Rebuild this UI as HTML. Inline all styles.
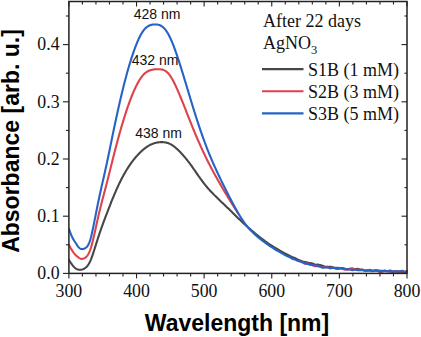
<!DOCTYPE html>
<html><head><meta charset="utf-8"><style>
html,body{margin:0;padding:0;background:#fff;width:421px;height:337px;overflow:hidden}
svg{display:block}
.serif{font-family:"Liberation Serif",serif}
.sans{font-family:"Liberation Sans",sans-serif}
</style></head><body>
<svg width="421" height="337" viewBox="0 0 421 337">
<rect width="421" height="337" fill="#fff"/>
<clipPath id="pa"><rect x="68.5" y="0" width="340" height="274"/></clipPath>
<g clip-path="url(#pa)" fill="none" stroke-width="2.1" stroke-linejoin="round" stroke-linecap="round">
<path d="M68.90,259.92 L69.40,260.70 L69.90,261.47 L70.40,262.23 L70.90,262.98 L71.40,263.71 L71.90,264.41 L72.40,265.09 L72.90,265.72 L73.40,266.32 L73.90,266.87 L74.40,267.38 L74.90,267.83 L75.40,268.23 L75.90,268.58 L76.40,268.88 L76.90,269.14 L77.40,269.35 L77.90,269.52 L78.40,269.65 L78.90,269.75 L79.40,269.80 L79.90,269.82 L80.40,269.81 L80.90,269.76 L81.40,269.68 L81.90,269.56 L82.40,269.41 L82.90,269.22 L83.40,269.01 L83.90,268.75 L84.40,268.47 L84.90,268.15 L85.40,267.79 L85.90,267.40 L86.40,266.95 L86.90,266.45 L87.40,265.89 L87.90,265.26 L88.40,264.55 L88.90,263.76 L89.40,262.87 L89.90,261.90 L90.40,260.81 L90.90,259.62 L91.40,258.33 L91.90,256.96 L92.40,255.53 L92.90,254.06 L93.40,252.55 L93.90,251.02 L94.40,249.46 L94.90,247.89 L95.40,246.31 L95.90,244.73 L96.40,243.14 L96.90,241.56 L97.40,239.99 L97.90,238.44 L98.40,236.89 L98.90,235.37 L99.40,233.86 L99.90,232.38 L100.40,230.92 L100.90,229.47 L101.40,228.05 L101.90,226.66 L102.40,225.27 L102.90,223.91 L103.40,222.56 L103.90,221.22 L104.40,219.88 L104.90,218.56 L105.40,217.24 L105.90,215.92 L106.40,214.61 L106.90,213.31 L107.40,212.01 L107.90,210.71 L108.40,209.42 L108.90,208.13 L109.40,206.84 L109.90,205.56 L110.40,204.27 L110.90,203.00 L111.40,201.73 L111.90,200.48 L112.40,199.23 L112.90,198.00 L113.40,196.78 L113.90,195.58 L114.40,194.39 L114.90,193.22 L115.40,192.06 L115.90,190.91 L116.40,189.78 L116.90,188.66 L117.40,187.56 L117.90,186.47 L118.40,185.40 L118.90,184.34 L119.40,183.30 L119.90,182.27 L120.40,181.26 L120.90,180.26 L121.40,179.27 L121.90,178.31 L122.40,177.35 L122.90,176.41 L123.40,175.49 L123.90,174.58 L124.40,173.69 L124.90,172.81 L125.40,171.95 L125.90,171.10 L126.40,170.27 L126.90,169.45 L127.40,168.65 L127.90,167.86 L128.40,167.08 L128.90,166.32 L129.40,165.58 L129.90,164.84 L130.40,164.12 L130.90,163.42 L131.40,162.73 L131.90,162.05 L132.40,161.38 L132.90,160.73 L133.40,160.08 L133.90,159.45 L134.40,158.83 L134.90,158.23 L135.40,157.63 L135.90,157.04 L136.40,156.46 L136.90,155.90 L137.40,155.34 L137.90,154.80 L138.40,154.26 L138.90,153.74 L139.40,153.22 L139.90,152.72 L140.40,152.23 L140.90,151.75 L141.40,151.28 L141.90,150.82 L142.40,150.37 L142.90,149.93 L143.40,149.51 L143.90,149.09 L144.40,148.69 L144.90,148.30 L145.40,147.92 L145.90,147.55 L146.40,147.20 L146.90,146.86 L147.40,146.53 L147.90,146.21 L148.40,145.90 L148.90,145.61 L149.40,145.33 L149.90,145.06 L150.40,144.81 L150.90,144.57 L151.40,144.34 L151.90,144.12 L152.40,143.91 L152.90,143.72 L153.40,143.54 L153.90,143.37 L154.40,143.21 L154.90,143.06 L155.40,142.93 L155.90,142.80 L156.40,142.69 L156.90,142.58 L157.40,142.49 L157.90,142.41 L158.40,142.34 L158.90,142.28 L159.40,142.22 L159.90,142.18 L160.40,142.15 L160.90,142.13 L161.40,142.12 L161.90,142.12 L162.40,142.13 L162.90,142.16 L163.40,142.19 L163.90,142.23 L164.40,142.28 L164.90,142.35 L165.40,142.43 L165.90,142.52 L166.40,142.63 L166.90,142.75 L167.40,142.89 L167.90,143.05 L168.40,143.22 L168.90,143.42 L169.40,143.63 L169.90,143.87 L170.40,144.12 L170.90,144.39 L171.40,144.68 L171.90,144.99 L172.40,145.31 L172.90,145.65 L173.40,146.00 L173.90,146.37 L174.40,146.76 L174.90,147.15 L175.40,147.57 L175.90,147.99 L176.40,148.43 L176.90,148.88 L177.40,149.34 L177.90,149.81 L178.40,150.29 L178.90,150.78 L179.40,151.28 L179.90,151.79 L180.40,152.31 L180.90,152.84 L181.40,153.38 L181.90,153.93 L182.40,154.48 L182.90,155.04 L183.40,155.61 L183.90,156.18 L184.40,156.76 L184.90,157.35 L185.40,157.94 L185.90,158.55 L186.40,159.16 L186.90,159.77 L187.40,160.40 L187.90,161.03 L188.40,161.68 L188.90,162.33 L189.40,162.99 L189.90,163.66 L190.40,164.34 L190.90,165.02 L191.40,165.71 L191.90,166.41 L192.40,167.12 L192.90,167.83 L193.40,168.55 L193.90,169.27 L194.40,170.00 L194.90,170.72 L195.40,171.45 L195.90,172.18 L196.40,172.90 L196.90,173.63 L197.40,174.35 L197.90,175.08 L198.40,175.79 L198.90,176.50 L199.40,177.21 L199.90,177.91 L200.40,178.61 L200.90,179.30 L201.40,179.99 L201.90,180.66 L202.40,181.33 L202.90,182.00 L203.40,182.65 L203.90,183.30 L204.40,183.94 L204.90,184.58 L205.40,185.20 L205.90,185.82 L206.40,186.43 L206.90,187.02 L207.40,187.61 L207.90,188.19 L208.40,188.77 L208.90,189.33 L209.40,189.89 L209.90,190.44 L210.40,190.98 L210.90,191.52 L211.40,192.05 L211.90,192.58 L212.40,193.10 L212.90,193.61 L213.40,194.12 L213.90,194.63 L214.40,195.13 L214.90,195.63 L215.40,196.12 L215.90,196.61 L216.40,197.10 L216.90,197.59 L217.40,198.08 L217.90,198.56 L218.40,199.04 L218.90,199.52 L219.40,200.00 L219.90,200.48 L220.40,200.96 L220.90,201.44 L221.40,201.91 L221.90,202.39 L222.40,202.87 L222.90,203.34 L223.40,203.82 L223.90,204.29 L224.40,204.77 L224.90,205.25 L225.40,205.72 L225.90,206.20 L226.40,206.68 L226.90,207.16 L227.40,207.64 L227.90,208.12 L228.40,208.60 L228.90,209.09 L229.40,209.57 L229.90,210.06 L230.40,210.55 L230.90,211.03 L231.40,211.52 L231.90,212.01 L232.40,212.50 L232.90,213.00 L233.40,213.49 L233.90,213.98 L234.40,214.47 L234.90,214.96 L235.40,215.46 L235.90,215.95 L236.40,216.44 L236.90,216.93 L237.40,217.42 L237.90,217.91 L238.40,218.40 L238.90,218.88 L239.40,219.37 L239.90,219.85 L240.40,220.33 L240.90,220.81 L241.40,221.29 L241.90,221.76 L242.40,222.23 L242.90,222.70 L243.40,223.16 L243.90,223.62 L244.40,224.08 L244.90,224.54 L245.40,224.99 L245.90,225.45 L246.40,225.89 L246.90,226.34 L247.40,226.79 L247.90,227.23 L248.40,227.67 L248.90,228.11 L249.40,228.55 L249.90,228.98 L250.40,229.41 L250.90,229.85 L251.40,230.28 L251.90,230.71 L252.40,231.13 L252.90,231.56 L253.40,231.98 L253.90,232.40 L254.40,232.82 L254.90,233.24 L255.40,233.65 L255.90,234.07 L256.40,234.48 L256.90,234.88 L257.40,235.29 L257.90,235.69 L258.40,236.09 L258.90,236.49 L259.40,236.88 L259.90,237.27 L260.40,237.66 L260.90,238.05 L261.40,238.43 L261.90,238.81 L262.40,239.19 L262.90,239.56 L263.40,239.94 L263.90,240.31 L264.40,240.67 L264.90,241.03 L265.40,241.40 L265.90,241.75 L266.40,242.11 L266.90,242.46 L267.40,242.81 L267.90,243.16 L268.40,243.50 L268.90,243.84 L269.40,244.18 L269.90,244.51 L270.00,244.58 L272.50,246.22 L275.00,247.78 L277.50,249.18 L280.00,250.71 L282.50,252.09 L285.00,253.47 L287.50,254.71 L290.00,256.02 L292.50,257.13 L295.00,258.08 L297.50,259.49 L300.00,260.45 L302.50,261.51 L305.00,261.93 L307.50,262.54 L310.00,263.16 L312.50,263.46 L315.00,264.79 L317.50,264.62 L320.00,265.05 L322.50,265.83 L325.00,266.84 L327.50,266.78 L330.00,266.70 L332.50,267.13 L335.00,267.90 L337.50,267.90 L340.00,267.94 L342.50,268.36 L345.00,268.93 L347.50,269.57 L350.00,268.65 L352.50,269.05 L355.00,269.18 L357.50,268.79 L360.00,269.49 L362.50,269.63 L365.00,270.55 L367.50,270.28 L370.00,269.91 L372.50,270.85 L375.00,270.64 L377.50,270.27 L380.00,270.78 L382.50,270.87 L385.00,270.84 L387.50,271.21 L390.00,270.45 L392.50,271.17 L395.00,271.64 L397.50,271.60 L400.00,271.69 L402.50,271.70 L405.00,271.83 L407.00,271.30" stroke="#474747"/>
<path d="M68.90,244.82 L69.40,245.74 L69.90,246.64 L70.40,247.54 L70.90,248.42 L71.40,249.28 L71.90,250.12 L72.40,250.92 L72.90,251.68 L73.40,252.40 L73.90,253.08 L74.40,253.70 L74.90,254.27 L75.40,254.79 L75.90,255.28 L76.40,255.73 L76.90,256.16 L77.40,256.57 L77.90,256.97 L78.40,257.37 L78.90,257.76 L79.40,258.11 L79.90,258.42 L80.40,258.66 L80.90,258.82 L81.40,258.90 L81.90,258.91 L82.40,258.86 L82.90,258.75 L83.40,258.61 L83.90,258.43 L84.40,258.20 L84.90,257.92 L85.40,257.58 L85.90,257.18 L86.40,256.71 L86.90,256.16 L87.40,255.53 L87.90,254.80 L88.40,253.96 L88.90,253.01 L89.40,251.92 L89.90,250.71 L90.40,249.34 L90.90,247.81 L91.40,246.14 L91.90,244.35 L92.40,242.43 L92.90,240.43 L93.40,238.34 L93.90,236.20 L94.40,234.00 L94.90,231.77 L95.40,229.52 L95.90,227.24 L96.40,224.95 L96.90,222.68 L97.40,220.42 L97.90,218.20 L98.40,216.01 L98.90,213.86 L99.40,211.75 L99.90,209.67 L100.40,207.64 L100.90,205.64 L101.40,203.67 L101.90,201.73 L102.40,199.81 L102.90,197.92 L103.40,196.03 L103.90,194.15 L104.40,192.27 L104.90,190.38 L105.40,188.49 L105.90,186.58 L106.40,184.66 L106.90,182.73 L107.40,180.78 L107.90,178.81 L108.40,176.83 L108.90,174.83 L109.40,172.83 L109.90,170.81 L110.40,168.80 L110.90,166.77 L111.40,164.75 L111.90,162.74 L112.40,160.73 L112.90,158.73 L113.40,156.75 L113.90,154.78 L114.40,152.82 L114.90,150.88 L115.40,148.95 L115.90,147.04 L116.40,145.14 L116.90,143.26 L117.40,141.39 L117.90,139.54 L118.40,137.71 L118.90,135.89 L119.40,134.09 L119.90,132.31 L120.40,130.55 L120.90,128.80 L121.40,127.07 L121.90,125.36 L122.40,123.68 L122.90,122.01 L123.40,120.36 L123.90,118.73 L124.40,117.12 L124.90,115.54 L125.40,113.97 L125.90,112.43 L126.40,110.91 L126.90,109.41 L127.40,107.94 L127.90,106.49 L128.40,105.06 L128.90,103.66 L129.40,102.28 L129.90,100.92 L130.40,99.59 L130.90,98.28 L131.40,97.00 L131.90,95.74 L132.40,94.51 L132.90,93.31 L133.40,92.13 L133.90,90.98 L134.40,89.86 L134.90,88.76 L135.40,87.70 L135.90,86.66 L136.40,85.65 L136.90,84.67 L137.40,83.72 L137.90,82.80 L138.40,81.91 L138.90,81.05 L139.40,80.23 L139.90,79.43 L140.40,78.67 L140.90,77.94 L141.40,77.24 L141.90,76.58 L142.40,75.95 L142.90,75.35 L143.40,74.79 L143.90,74.26 L144.40,73.77 L144.90,73.31 L145.40,72.89 L145.90,72.50 L146.40,72.14 L146.90,71.82 L147.40,71.52 L147.90,71.25 L148.40,71.01 L148.90,70.78 L149.40,70.58 L149.90,70.40 L150.40,70.23 L150.90,70.08 L151.40,69.95 L151.90,69.83 L152.40,69.71 L152.90,69.62 L153.40,69.53 L153.90,69.45 L154.40,69.39 L154.90,69.33 L155.40,69.28 L155.90,69.25 L156.40,69.22 L156.90,69.20 L157.40,69.18 L157.90,69.18 L158.40,69.18 L158.90,69.19 L159.40,69.21 L159.90,69.24 L160.40,69.28 L160.90,69.34 L161.40,69.41 L161.90,69.51 L162.40,69.63 L162.90,69.77 L163.40,69.94 L163.90,70.14 L164.40,70.37 L164.90,70.63 L165.40,70.93 L165.90,71.27 L166.40,71.64 L166.90,72.05 L167.40,72.51 L167.90,73.00 L168.40,73.55 L168.90,74.14 L169.40,74.77 L169.90,75.45 L170.40,76.17 L170.90,76.94 L171.40,77.74 L171.90,78.57 L172.40,79.45 L172.90,80.35 L173.40,81.29 L173.90,82.25 L174.40,83.24 L174.90,84.26 L175.40,85.31 L175.90,86.37 L176.40,87.46 L176.90,88.57 L177.40,89.69 L177.90,90.84 L178.40,92.00 L178.90,93.17 L179.40,94.35 L179.90,95.55 L180.40,96.76 L180.90,97.98 L181.40,99.21 L181.90,100.44 L182.40,101.68 L182.90,102.93 L183.40,104.18 L183.90,105.44 L184.40,106.70 L184.90,107.96 L185.40,109.22 L185.90,110.49 L186.40,111.75 L186.90,113.02 L187.40,114.28 L187.90,115.55 L188.40,116.81 L188.90,118.07 L189.40,119.33 L189.90,120.59 L190.40,121.84 L190.90,123.09 L191.40,124.34 L191.90,125.58 L192.40,126.81 L192.90,128.04 L193.40,129.27 L193.90,130.49 L194.40,131.70 L194.90,132.90 L195.40,134.10 L195.90,135.29 L196.40,136.47 L196.90,137.65 L197.40,138.82 L197.90,139.98 L198.40,141.13 L198.90,142.28 L199.40,143.41 L199.90,144.54 L200.40,145.66 L200.90,146.77 L201.40,147.87 L201.90,148.96 L202.40,150.05 L202.90,151.12 L203.40,152.19 L203.90,153.25 L204.40,154.30 L204.90,155.34 L205.40,156.37 L205.90,157.40 L206.40,158.42 L206.90,159.43 L207.40,160.43 L207.90,161.43 L208.40,162.42 L208.90,163.41 L209.40,164.38 L209.90,165.36 L210.40,166.32 L210.90,167.28 L211.40,168.23 L211.90,169.18 L212.40,170.12 L212.90,171.05 L213.40,171.98 L213.90,172.90 L214.40,173.82 L214.90,174.73 L215.40,175.64 L215.90,176.55 L216.40,177.45 L216.90,178.34 L217.40,179.23 L217.90,180.12 L218.40,181.00 L218.90,181.88 L219.40,182.76 L219.90,183.63 L220.40,184.50 L220.90,185.37 L221.40,186.23 L221.90,187.09 L222.40,187.95 L222.90,188.80 L223.40,189.65 L223.90,190.49 L224.40,191.34 L224.90,192.17 L225.40,193.01 L225.90,193.84 L226.40,194.66 L226.90,195.49 L227.40,196.31 L227.90,197.13 L228.40,197.94 L228.90,198.75 L229.40,199.56 L229.90,200.37 L230.40,201.17 L230.90,201.98 L231.40,202.78 L231.90,203.58 L232.40,204.38 L232.90,205.18 L233.40,205.98 L233.90,206.78 L234.40,207.58 L234.90,208.38 L235.40,209.17 L235.90,209.97 L236.40,210.76 L236.90,211.55 L237.40,212.34 L237.90,213.13 M300.00,261.30 L302.50,262.55 L305.00,263.78 L307.50,263.50 L310.00,264.78 L312.50,264.96 L315.00,266.24 L317.50,266.19 L320.00,266.71 L322.50,267.08 L325.00,267.26 L327.50,266.85 L330.00,268.40 L332.50,267.42 L335.00,268.39 L337.50,268.78 L340.00,268.34 L342.50,268.98 L345.00,269.63 L347.50,269.28 L350.00,269.07 L352.50,268.32 L355.00,269.36 L357.50,269.69 L360.00,269.87 L362.50,269.82 L365.00,270.57 L367.50,270.28 L370.00,270.62 L372.50,271.09 L375.00,270.51 L377.50,270.87 L380.00,272.06 L382.50,271.56 L385.00,270.65 L387.50,271.25 L390.00,271.59 L392.50,271.93 L395.00,271.47 L397.50,271.19 L400.00,271.13 L402.50,271.76 L405.00,271.63 L407.00,271.50" stroke="#DE424B"/>
<path d="M68.90,228.82 L69.40,230.18 L69.90,231.53 L70.40,232.85 L70.90,234.13 L71.40,235.35 L71.90,236.50 L72.40,237.57 L72.90,238.54 L73.40,239.42 L73.90,240.23 L74.40,241.01 L74.90,241.75 L75.40,242.50 L75.90,243.26 L76.40,244.05 L76.90,244.84 L77.40,245.61 L77.90,246.33 L78.40,246.98 L78.90,247.54 L79.40,248.00 L79.90,248.37 L80.40,248.66 L80.90,248.87 L81.40,249.01 L81.90,249.08 L82.40,249.09 L82.90,249.04 L83.40,248.93 L83.90,248.78 L84.40,248.57 L84.90,248.31 L85.40,248.00 L85.90,247.63 L86.40,247.21 L86.90,246.71 L87.40,246.11 L87.90,245.40 L88.40,244.53 L88.90,243.50 L89.40,242.28 L89.90,240.88 L90.40,239.28 L90.90,237.47 L91.40,235.49 L91.90,233.37 L92.40,231.12 L92.90,228.78 L93.40,226.37 L93.90,223.90 L94.40,221.40 L94.90,218.88 L95.40,216.34 L95.90,213.79 L96.40,211.25 L96.90,208.72 L97.40,206.22 L97.90,203.76 L98.40,201.33 L98.90,198.94 L99.40,196.58 L99.90,194.26 L100.40,191.98 L100.90,189.72 L101.40,187.49 L101.90,185.28 L102.40,183.08 L102.90,180.88 L103.40,178.69 L103.90,176.49 L104.40,174.27 L104.90,172.04 L105.40,169.79 L105.90,167.51 L106.40,165.22 L106.90,162.89 L107.40,160.55 L107.90,158.18 L108.40,155.79 L108.90,153.38 L109.40,150.96 L109.90,148.53 L110.40,146.09 L110.90,143.64 L111.40,141.20 L111.90,138.75 L112.40,136.31 L112.90,133.89 L113.40,131.48 L113.90,129.08 L114.40,126.69 L114.90,124.32 L115.40,121.96 L115.90,119.62 L116.40,117.30 L116.90,114.99 L117.40,112.71 L117.90,110.44 L118.40,108.19 L118.90,105.97 L119.40,103.76 L119.90,101.58 L120.40,99.42 L120.90,97.28 L121.40,95.16 L121.90,93.07 L122.40,91.01 L122.90,88.97 L123.40,86.95 L123.90,84.96 L124.40,83.00 L124.90,81.06 L125.40,79.15 L125.90,77.27 L126.40,75.41 L126.90,73.58 L127.40,71.78 L127.90,70.01 L128.40,68.27 L128.90,66.55 L129.40,64.86 L129.90,63.20 L130.40,61.57 L130.90,59.97 L131.40,58.40 L131.90,56.86 L132.40,55.35 L132.90,53.86 L133.40,52.41 L133.90,50.99 L134.40,49.60 L134.90,48.24 L135.40,46.91 L135.90,45.61 L136.40,44.34 L136.90,43.11 L137.40,41.92 L137.90,40.76 L138.40,39.64 L138.90,38.55 L139.40,37.50 L139.90,36.50 L140.40,35.53 L140.90,34.61 L141.40,33.73 L141.90,32.89 L142.40,32.10 L142.90,31.36 L143.40,30.66 L143.90,30.01 L144.40,29.41 L144.90,28.85 L145.40,28.33 L145.90,27.85 L146.40,27.41 L146.90,27.01 L147.40,26.65 L147.90,26.32 L148.40,26.03 L148.90,25.77 L149.40,25.54 L149.90,25.33 L150.40,25.15 L150.90,25.00 L151.40,24.86 L151.90,24.75 L152.40,24.65 L152.90,24.57 L153.40,24.51 L153.90,24.47 L154.40,24.44 L154.90,24.43 L155.40,24.43 L155.90,24.44 L156.40,24.47 L156.90,24.52 L157.40,24.58 L157.90,24.66 L158.40,24.77 L158.90,24.90 L159.40,25.06 L159.90,25.25 L160.40,25.47 L160.90,25.72 L161.40,26.01 L161.90,26.33 L162.40,26.69 L162.90,27.08 L163.40,27.52 L163.90,28.00 L164.40,28.52 L164.90,29.09 L165.40,29.70 L165.90,30.35 L166.40,31.05 L166.90,31.80 L167.40,32.59 L167.90,33.43 L168.40,34.32 L168.90,35.25 L169.40,36.22 L169.90,37.23 L170.40,38.29 L170.90,39.38 L171.40,40.52 L171.90,41.69 L172.40,42.90 L172.90,44.15 L173.40,45.43 L173.90,46.73 L174.40,48.07 L174.90,49.43 L175.40,50.82 L175.90,52.24 L176.40,53.67 L176.90,55.13 L177.40,56.61 L177.90,58.11 L178.40,59.62 L178.90,61.15 L179.40,62.69 L179.90,64.25 L180.40,65.83 L180.90,67.41 L181.40,69.01 L181.90,70.62 L182.40,72.23 L182.90,73.86 L183.40,75.49 L183.90,77.13 L184.40,78.78 L184.90,80.43 L185.40,82.09 L185.90,83.75 L186.40,85.41 L186.90,87.07 L187.40,88.74 L187.90,90.40 L188.40,92.07 L188.90,93.73 L189.40,95.39 L189.90,97.05 L190.40,98.70 L190.90,100.35 L191.40,102.00 L191.90,103.63 L192.40,105.27 L192.90,106.89 L193.40,108.51 L193.90,110.12 L194.40,111.72 L194.90,113.31 L195.40,114.89 L195.90,116.46 L196.40,118.02 L196.90,119.57 L197.40,121.11 L197.90,122.64 L198.40,124.16 L198.90,125.66 L199.40,127.16 L199.90,128.64 L200.40,130.11 L200.90,131.57 L201.40,133.01 L201.90,134.44 L202.40,135.86 L202.90,137.26 L203.40,138.66 L203.90,140.03 L204.40,141.40 L204.90,142.75 L205.40,144.09 L205.90,145.41 L206.40,146.72 L206.90,148.02 L207.40,149.30 L207.90,150.57 L208.40,151.83 L208.90,153.07 L209.40,154.30 L209.90,155.52 L210.40,156.73 L210.90,157.92 L211.40,159.11 L211.90,160.28 L212.40,161.44 L212.90,162.58 L213.40,163.72 L213.90,164.85 L214.40,165.97 L214.90,167.08 L215.40,168.18 L215.90,169.28 L216.40,170.37 L216.90,171.45 L217.40,172.52 L217.90,173.59 L218.40,174.65 L218.90,175.70 L219.40,176.75 L219.90,177.80 L220.40,178.84 L220.90,179.88 L221.40,180.91 L221.90,181.94 L222.40,182.96 L222.90,183.98 L223.40,185.00 L223.90,186.01 L224.40,187.02 L224.90,188.03 L225.40,189.03 L225.90,190.02 L226.40,191.02 L226.90,192.01 L227.40,192.99 L227.90,193.97 L228.40,194.95 L228.90,195.92 L229.40,196.89 L229.90,197.86 L230.40,198.82 L230.90,199.77 L231.40,200.72 L231.90,201.67 L232.40,202.61 L232.90,203.55 L233.40,204.48 L233.90,205.40 L234.40,206.33 L234.90,207.24 L235.40,208.15 L235.90,209.05 L236.40,209.94 L236.90,210.83 L237.40,211.71 L237.90,212.58 L238.40,213.44 L238.90,214.29 L239.40,215.13 L239.90,215.96 L240.40,216.77 L240.90,217.58 L241.40,218.37 L241.90,219.15 L242.40,219.91 L242.90,220.66 L243.40,221.39 L243.90,222.11 L244.40,222.81 L244.90,223.49 L245.40,224.16 L245.90,224.81 L246.40,225.45 L246.90,226.07 L247.40,226.67 L247.90,227.26 L248.40,227.84 L248.90,228.41 L249.40,228.96 L249.90,229.51 L250.40,230.04 L250.90,230.56 L251.40,231.07 L251.90,231.58 L252.40,232.07 L252.90,232.56 L253.40,233.04 L253.90,233.51 L254.40,233.97 L254.90,234.42 L255.40,234.87 L255.90,235.32 L256.40,235.75 L256.90,236.18 L257.40,236.61 L257.90,237.03 L258.40,237.45 L258.90,237.86 L259.40,238.27 L259.90,238.67 L260.40,239.07 L260.90,239.47 L261.40,239.86 L261.90,240.25 L262.40,240.63 L262.90,241.01 L263.40,241.39 L263.90,241.77 L264.40,242.14 L264.90,242.50 L265.40,242.87 L265.90,243.23 L266.40,243.59 L266.90,243.94 L267.40,244.30 L267.90,244.65 L268.40,244.99 L268.90,245.34 L269.40,245.68 L269.90,246.01 L270.00,246.08 L272.50,247.72 L275.00,249.27 L277.50,250.84 L280.00,252.16 L282.50,253.68 L285.00,255.08 L287.50,256.33 L290.00,257.30 L292.50,258.93 L295.00,259.53 L297.50,260.80 L300.00,261.37 L302.50,261.85 L305.00,263.25 L307.50,263.95 L310.00,264.43 L312.50,265.13 L315.00,265.23 L317.50,265.63 L320.00,266.32 L322.50,267.75 L325.00,267.56 L327.50,267.21 L330.00,268.05 L332.50,267.80 L335.00,268.06 L337.50,268.94 L340.00,268.45 L342.50,268.08 L345.00,268.65 L347.50,269.33 L350.00,269.53 L352.50,270.25 L355.00,269.44 L357.50,270.32 L360.00,270.32 L362.50,270.18 L365.00,270.82 L367.50,270.78 L370.00,270.23 L372.50,271.32 L375.00,270.29 L377.50,271.03 L380.00,271.09 L382.50,271.38 L385.00,270.87 L387.50,271.27 L390.00,271.27 L392.50,271.87 L395.00,271.01 L397.50,271.47 L400.00,271.32 L402.50,270.82 L405.00,272.83 L407.00,271.50" stroke="#2563C6"/>
</g>
<g stroke="#222" stroke-width="1.1"><line x1="68.90" y1="273.4" x2="68.90" y2="278.4"/><line x1="68.90" y1="1.5" x2="68.90" y2="6.5"/><line x1="82.42" y1="273.4" x2="82.42" y2="276.4"/><line x1="82.42" y1="1.5" x2="82.42" y2="4.5"/><line x1="95.95" y1="273.4" x2="95.95" y2="276.4"/><line x1="95.95" y1="1.5" x2="95.95" y2="4.5"/><line x1="109.47" y1="273.4" x2="109.47" y2="276.4"/><line x1="109.47" y1="1.5" x2="109.47" y2="4.5"/><line x1="123.00" y1="273.4" x2="123.00" y2="276.4"/><line x1="123.00" y1="1.5" x2="123.00" y2="4.5"/><line x1="136.52" y1="273.4" x2="136.52" y2="278.4"/><line x1="136.52" y1="1.5" x2="136.52" y2="6.5"/><line x1="150.04" y1="273.4" x2="150.04" y2="276.4"/><line x1="150.04" y1="1.5" x2="150.04" y2="4.5"/><line x1="163.57" y1="273.4" x2="163.57" y2="276.4"/><line x1="163.57" y1="1.5" x2="163.57" y2="4.5"/><line x1="177.09" y1="273.4" x2="177.09" y2="276.4"/><line x1="177.09" y1="1.5" x2="177.09" y2="4.5"/><line x1="190.62" y1="273.4" x2="190.62" y2="276.4"/><line x1="190.62" y1="1.5" x2="190.62" y2="4.5"/><line x1="204.14" y1="273.4" x2="204.14" y2="278.4"/><line x1="204.14" y1="1.5" x2="204.14" y2="6.5"/><line x1="217.66" y1="273.4" x2="217.66" y2="276.4"/><line x1="217.66" y1="1.5" x2="217.66" y2="4.5"/><line x1="231.19" y1="273.4" x2="231.19" y2="276.4"/><line x1="231.19" y1="1.5" x2="231.19" y2="4.5"/><line x1="244.71" y1="273.4" x2="244.71" y2="276.4"/><line x1="244.71" y1="1.5" x2="244.71" y2="4.5"/><line x1="258.24" y1="273.4" x2="258.24" y2="276.4"/><line x1="258.24" y1="1.5" x2="258.24" y2="4.5"/><line x1="271.76" y1="273.4" x2="271.76" y2="278.4"/><line x1="271.76" y1="1.5" x2="271.76" y2="6.5"/><line x1="285.28" y1="273.4" x2="285.28" y2="276.4"/><line x1="285.28" y1="1.5" x2="285.28" y2="4.5"/><line x1="298.81" y1="273.4" x2="298.81" y2="276.4"/><line x1="298.81" y1="1.5" x2="298.81" y2="4.5"/><line x1="312.33" y1="273.4" x2="312.33" y2="276.4"/><line x1="312.33" y1="1.5" x2="312.33" y2="4.5"/><line x1="325.86" y1="273.4" x2="325.86" y2="276.4"/><line x1="325.86" y1="1.5" x2="325.86" y2="4.5"/><line x1="339.38" y1="273.4" x2="339.38" y2="278.4"/><line x1="339.38" y1="1.5" x2="339.38" y2="6.5"/><line x1="352.90" y1="273.4" x2="352.90" y2="276.4"/><line x1="352.90" y1="1.5" x2="352.90" y2="4.5"/><line x1="366.43" y1="273.4" x2="366.43" y2="276.4"/><line x1="366.43" y1="1.5" x2="366.43" y2="4.5"/><line x1="379.95" y1="273.4" x2="379.95" y2="276.4"/><line x1="379.95" y1="1.5" x2="379.95" y2="4.5"/><line x1="393.48" y1="273.4" x2="393.48" y2="276.4"/><line x1="393.48" y1="1.5" x2="393.48" y2="4.5"/><line x1="407.00" y1="273.4" x2="407.00" y2="278.4"/><line x1="407.00" y1="1.5" x2="407.00" y2="6.5"/><line x1="62.900000000000006" y1="273.40" x2="68.9" y2="273.40"/><line x1="401.5" y1="273.40" x2="407.0" y2="273.40"/><line x1="65.9" y1="244.80" x2="68.9" y2="244.80"/><line x1="404.5" y1="244.80" x2="407.0" y2="244.80"/><line x1="62.900000000000006" y1="216.20" x2="68.9" y2="216.20"/><line x1="401.5" y1="216.20" x2="407.0" y2="216.20"/><line x1="65.9" y1="187.60" x2="68.9" y2="187.60"/><line x1="404.5" y1="187.60" x2="407.0" y2="187.60"/><line x1="62.900000000000006" y1="159.00" x2="68.9" y2="159.00"/><line x1="401.5" y1="159.00" x2="407.0" y2="159.00"/><line x1="65.9" y1="130.40" x2="68.9" y2="130.40"/><line x1="404.5" y1="130.40" x2="407.0" y2="130.40"/><line x1="62.900000000000006" y1="101.80" x2="68.9" y2="101.80"/><line x1="401.5" y1="101.80" x2="407.0" y2="101.80"/><line x1="65.9" y1="73.20" x2="68.9" y2="73.20"/><line x1="404.5" y1="73.20" x2="407.0" y2="73.20"/><line x1="62.900000000000006" y1="44.60" x2="68.9" y2="44.60"/><line x1="401.5" y1="44.60" x2="407.0" y2="44.60"/><line x1="65.9" y1="16.00" x2="68.9" y2="16.00"/><line x1="404.5" y1="16.00" x2="407.0" y2="16.00"/></g>
<rect x="68.9" y="1.5" width="338.1" height="271.9" fill="none" stroke="#222" stroke-width="1.5"/>
<g class="serif" font-size="17.8" fill="#111" text-anchor="middle"><text x="68.90" y="297">300</text><text x="136.52" y="297">400</text><text x="204.14" y="297">500</text><text x="271.76" y="297">600</text><text x="339.38" y="297">700</text><text x="407.00" y="297">800</text></g>
<g class="serif" font-size="17.8" fill="#111" text-anchor="end"><text x="59.6" y="279.10">0.0</text><text x="59.6" y="221.90">0.1</text><text x="59.6" y="164.70">0.2</text><text x="59.6" y="107.50">0.3</text><text x="59.6" y="50.30">0.4</text></g>
<text class="sans" font-weight="bold" font-size="23" transform="translate(237,331) scale(1.0000,1)" text-anchor="middle" fill="#000">Wavelength [nm]</text>
<text class="sans" font-weight="bold" font-size="23" transform="translate(19.2,141) rotate(-90) scale(1.0000,1)" text-anchor="middle" fill="#000">Absorbance [arb. u.]</text>
<g class="sans" font-size="14" fill="#111" text-anchor="middle">
<text x="157" y="19">428 nm</text>
<text x="155" y="65">432 nm</text>
<text x="158.5" y="137.5">438 nm</text>
</g>
<g class="serif" font-size="18" fill="#111">
<text x="263" y="26.8">After 22 days</text>
<text x="263" y="49.3">AgNO<tspan font-size="12.5" dy="5">3</tspan></text>
<text x="308" y="76.2">S1B (1 mM)</text>
<text x="308" y="98.4">S2B (3 mM)</text>
<text x="308" y="120.1">S3B (5 mM)</text>
</g>
<g stroke-width="2.1">
<line x1="262" y1="69.1" x2="303.5" y2="69.1" stroke="#474747"/>
<line x1="262" y1="91.2" x2="303.5" y2="91.2" stroke="#DE424B"/>
<line x1="262" y1="113.4" x2="303.5" y2="113.4" stroke="#2563C6"/>
</g>
</svg>
</body></html>
